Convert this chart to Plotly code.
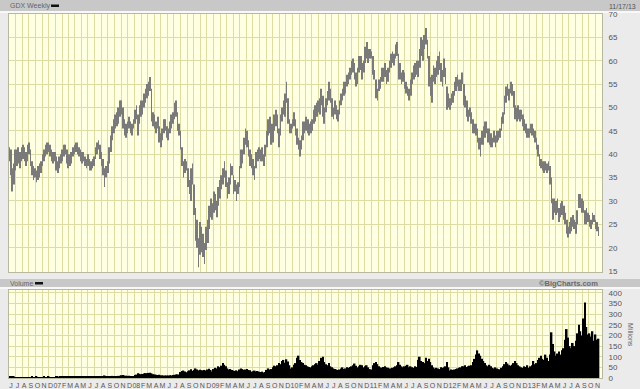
import pandas as pd
import plotly.graph_objects as go

# ---------------- data (weekly) ----------------
first_week = "2006-06-02"
chart_date = "11/17/13"

week_low = [
    # 2006 Jun-Dec
    38.5, 35.5, 32.0, 33.5, 36.5,
    37.5, 38.0, 37.0, 38.5,
    39.0, 38.5, 37.5, 38.5,
    40.0, 37.5, 35.5, 34.5, 35.0,
    34.0, 34.5, 35.0, 36.0,
    37.5, 38.5, 39.5, 40.0,
    40.5, 39.5, 38.5, 38.0, 38.5,
    # 2007
    36.5, 36.0, 37.0, 38.0,
    38.5, 39.5, 40.0, 38.0,
    37.0, 37.5, 38.0, 39.5, 40.0,
    40.5, 40.0, 39.5, 38.5,
    38.0, 38.5, 37.5, 37.0,
    37.5, 36.5, 36.5, 37.0, 37.5,
    39.0, 40.0, 41.0, 39.0,
    37.5, 35.5, 33.0, 35.0, 36.0,
    38.0, 40.5, 43.0, 44.5,
    45.5, 46.0, 46.5, 48.0,
    48.5, 45.5, 44.0, 43.5, 44.5,
    45.5, 44.5, 44.0, 45.5,
    # 2008
    46.5, 47.5, 44.0, 46.5,
    48.0, 48.5, 50.0, 51.0, 52.0,
    52.5, 53.5, 47.0, 46.0,
    45.5, 44.5, 45.5, 42.5,
    41.5, 43.0, 44.5, 45.0, 43.5,
    43.0, 44.5, 45.5, 46.5,
    47.5, 48.0, 45.0, 44.0,
    41.0, 37.5, 35.0, 36.0, 36.5,
    33.0, 31.5, 30.0, 33.5,
    27.0, 21.5, 20.0, 15.8, 18.5,
    19.0, 18.0, 16.5, 19.5,
    21.0, 24.0, 26.5, 26.0,
    # 2009
    27.5, 28.0, 26.5, 29.0, 30.5,
    32.5, 33.5, 35.0, 33.0,
    30.5, 31.5, 33.5, 35.5,
    31.5, 32.0, 30.0, 31.5,
    33.0, 37.0, 38.0, 40.0, 42.0,
    41.5, 39.5, 37.5, 37.0,
    35.5, 34.5, 37.0, 38.5, 39.0,
    38.5, 38.5, 37.5, 39.5,
    41.5, 44.0, 44.5, 42.0,
    42.5, 45.0, 46.0, 44.5, 41.5,
    44.0, 47.0, 48.5, 48.0,
    51.0, 46.5, 44.5, 44.5,
    # 2010
    45.5, 46.0, 44.0, 42.0, 41.0,
    39.5, 41.0, 43.0, 44.5,
    45.0, 44.5, 44.0, 44.5,
    45.0, 46.5, 47.0, 48.0, 49.0,
    48.5, 50.5, 48.0, 46.5,
    49.0, 50.5, 51.5, 51.0,
    48.0, 47.5, 48.5, 47.5, 47.0,
    48.5, 50.5, 51.5, 52.5,
    53.0, 54.5, 55.0, 56.0,
    57.0, 57.5, 56.0, 54.5, 55.0,
    57.5, 58.0, 56.0, 57.5,
    59.5, 60.5, 59.5, 60.5, 60.5,
    # 2011
    57.0, 56.0, 52.0, 51.5,
    53.5, 54.0, 55.5, 55.5,
    56.5, 55.0, 55.5, 57.5,
    58.5, 59.5, 59.0, 60.5, 61.0,
    56.0, 56.0, 55.0, 55.5,
    54.0, 53.0, 52.5, 51.5,
    52.5, 55.0, 56.0, 56.5, 57.0,
    56.5, 58.5, 61.0, 60.0,
    62.5, 63.5, 60.5, 54.5, 52.5,
    51.0, 55.5, 55.0, 56.5,
    57.0, 58.0, 55.5, 54.5,
    56.5, 55.0, 49.5, 50.0, 49.5,
    # 2012
    50.5, 51.0, 52.5, 53.5,
    54.5, 53.5, 53.5, 55.0,
    50.5, 50.0, 48.0, 47.0, 48.0,
    46.5, 44.5, 44.5, 44.0,
    42.5, 41.0, 39.5, 42.0,
    42.0, 43.5, 44.5, 42.5, 42.0,
    41.5, 41.5, 42.5, 41.5,
    42.5, 43.0, 43.5, 45.0, 46.5,
    48.5, 51.0, 52.5, 51.5,
    53.0, 52.5, 50.0, 47.5,
    47.0, 47.5, 47.0, 47.5, 46.0,
    45.0, 44.5, 43.5, 43.5,
    # 2013
    44.5, 44.0, 43.5, 42.5,
    41.0, 39.5, 37.5, 37.0,
    36.5, 36.0, 36.5, 36.0, 36.5,
    33.5, 29.5, 26.0, 27.5,
    27.0, 27.5, 25.5, 26.5, 27.0,
    26.0, 25.0, 23.0, 22.2,
    23.0, 23.5, 24.5, 24.0,
    23.0, 25.0, 28.5, 28.5, 27.5,
    27.5, 25.0, 25.0, 25.5,
    24.5, 24.0, 25.0, 25.5,
    24.0, 23.5, 22.5,
]

week_high = [
    # 2006 Jun-Dec
    41.5, 41.0, 37.0, 38.0, 41.0,
    41.0, 41.5, 40.5, 41.5,
    42.0, 41.5, 40.5, 42.0,
    42.5, 41.0, 38.5, 37.5, 37.0,
    36.5, 37.5, 38.0, 38.5,
    40.0, 41.0, 42.0, 42.5,
    42.5, 42.0, 41.0, 40.5, 40.5,
    # 2007
    39.5, 38.5, 39.5, 40.0,
    41.0, 42.0, 42.0, 41.0,
    40.0, 40.0, 40.5, 41.5, 42.0,
    42.5, 42.5, 41.5, 41.0,
    40.5, 40.5, 39.5, 39.0,
    40.0, 39.0, 38.5, 39.0, 39.5,
    41.5, 42.5, 43.0, 42.0,
    40.5, 39.0, 37.0, 37.5, 38.5,
    41.5, 44.0, 46.0, 47.5,
    48.5, 49.0, 50.0, 51.5,
    51.5, 50.0, 47.5, 46.5, 47.0,
    48.0, 47.0, 46.5, 47.5,
    # 2008
    49.5, 50.5, 48.5, 50.5,
    51.5, 51.5, 53.0, 54.0, 55.0,
    55.5, 56.5, 54.0, 49.0,
    48.5, 47.0, 48.0, 46.0,
    44.5, 45.5, 47.5, 47.5, 46.0,
    45.5, 47.0, 48.5, 49.0,
    51.0, 51.5, 49.0, 46.5,
    45.0, 41.5, 38.5, 39.0, 38.5,
    37.0, 34.5, 37.0, 38.0,
    33.5, 28.5, 26.0, 22.0, 25.5,
    24.5, 23.0, 21.0, 24.5,
    26.0, 29.0, 30.5, 29.5,
    # 2009
    32.0, 31.5, 30.0, 33.0, 34.5,
    35.5, 37.0, 38.5, 36.5,
    34.0, 35.0, 38.0, 37.5,
    35.5, 34.5, 33.5, 34.0,
    37.5, 41.0, 41.0, 43.5, 45.5,
    45.0, 43.0, 41.0, 40.0,
    39.0, 37.5, 40.5, 41.0, 41.5,
    41.0, 41.5, 40.0, 42.0,
    45.0, 47.5, 48.0, 46.5,
    46.5, 48.5, 49.5, 48.5, 45.5,
    48.5, 50.0, 51.5, 53.0,
    55.5, 52.0, 47.5, 46.5,
    # 2010
    47.5, 49.0, 47.5, 45.5, 43.5,
    43.0, 44.0, 47.0, 47.0,
    48.0, 47.5, 46.5, 47.0,
    47.5, 49.5, 50.5, 51.0, 51.5,
    52.0, 54.0, 52.5, 50.0,
    52.0, 53.5, 55.5, 54.0,
    52.0, 50.0, 51.5, 50.5, 49.5,
    51.5, 53.0, 54.0, 55.5,
    55.5, 57.0, 57.5, 58.5,
    60.0, 60.5, 59.5, 57.5, 58.5,
    61.0, 61.0, 59.5, 60.0,
    63.0, 64.0, 62.5, 62.5, 62.0,
    # 2011
    61.0, 58.0, 56.0, 54.0,
    56.0, 56.5, 58.5, 58.5,
    59.5, 58.0, 58.5, 60.0,
    61.5, 62.0, 61.5, 63.5, 64.0,
    61.5, 59.5, 57.5, 58.0,
    57.5, 55.5, 54.5, 54.0,
    56.0, 57.5, 59.0, 59.5, 60.0,
    60.0, 62.5, 65.0, 64.5,
    65.5, 67.0, 64.5, 61.0, 56.5,
    57.0, 59.0, 58.5, 60.0,
    61.0, 62.0, 59.5, 58.0,
    60.5, 58.5, 54.5, 53.0, 52.0,
    # 2012
    53.0, 53.5, 55.5, 56.5,
    57.0, 56.0, 56.0, 57.5,
    55.0, 52.5, 51.5, 49.5, 50.0,
    49.0, 47.5, 46.5, 46.5,
    45.5, 43.5, 43.5, 45.0,
    46.0, 47.0, 47.0, 45.5, 45.5,
    44.5, 43.5, 45.0, 44.0,
    45.0, 45.0, 45.5, 48.0, 49.0,
    52.5, 54.5, 55.0, 54.0,
    55.5, 55.0, 53.5, 50.5,
    50.0, 50.5, 49.5, 49.5, 48.5,
    47.5, 46.5, 45.5, 45.5,
    # 2013
    46.5, 46.5, 45.5, 45.0,
    43.5, 42.0, 40.0, 39.0,
    38.5, 38.5, 38.5, 38.0, 38.5,
    37.5, 35.0, 30.5, 30.5,
    30.0, 30.5, 28.5, 29.5, 30.0,
    29.0, 27.5, 26.0, 24.5,
    25.5, 26.5, 27.0, 26.0,
    25.5, 28.0, 31.5, 31.5, 30.5,
    30.0, 28.0, 28.5, 27.5,
    27.0, 26.0, 27.5, 27.0,
    26.0, 25.5, 24.5,
]

week_volume = [  # millions
    # 2006 Jun-Dec
    6, 5, 7, 5, 4,
    4, 4, 3, 4,
    3, 4, 3, 3,
    4, 4, 5, 4, 4,
    5, 4, 4, 4,
    4, 5, 4, 4,
    5, 4, 4, 3, 3,
    # 2007
    5, 5, 4, 5,
    5, 6, 5, 7,
    7, 6, 5, 5, 5,
    5, 5, 5, 6,
    5, 5, 6, 5,
    6, 6, 5, 5, 5,
    5, 6, 6, 7,
    8, 9, 12, 8, 7,
    8, 9, 10, 9,
    9, 8, 10, 11,
    13, 14, 12, 10, 10,
    10, 9, 9, 8,
    # 2008
    14, 16, 22, 20,
    18, 19, 21, 23, 22,
    24, 25, 22, 18,
    17, 15, 14, 15,
    13, 12, 12, 11, 12,
    12, 13, 12, 14,
    15, 16, 17, 17,
    28, 33, 35, 30, 27,
    32, 36, 41, 34,
    38, 45, 40, 36, 39,
    37, 35, 38, 34,
    40, 44, 38, 30,
    # 2009
    42, 48, 45, 55, 50,
    58, 70, 62, 55,
    45, 40, 42, 38,
    35, 33, 36, 32,
    40, 45, 42, 38, 40,
    42, 38, 36, 30,
    32, 35, 30, 33, 29,
    28, 30, 26, 28,
    38, 45, 40, 42,
    50, 58, 55, 60, 70,
    65, 80, 85, 72,
    88, 78, 60, 45,
    # 2010
    50, 62, 70, 95, 105,
    85, 75, 70, 62,
    60, 55, 52, 50,
    55, 60, 65, 70, 62,
    80, 95, 100, 75,
    65, 60, 70, 55,
    50, 45, 42, 40, 38,
    40, 45, 50, 42,
    45, 50, 48, 52,
    55, 60, 68, 58, 50,
    55, 62, 60, 50,
    55, 60, 50, 42, 40,
    # 2011
    60, 70, 75, 65,
    55, 50, 48, 52,
    55, 50, 48, 45,
    45, 48, 50, 55, 60,
    75, 62, 55, 50,
    55, 58, 62, 50,
    55, 50, 48, 55, 52,
    85, 100, 80, 75,
    70, 95, 80, 90, 75,
    60, 50, 45, 48,
    45, 42, 50, 48,
    50, 55, 75, 50, 35,
    # 2012
    40, 38, 40, 42,
    45, 48, 50, 55,
    55, 60, 52, 55, 58,
    60, 75, 90, 110,
    130, 115, 105, 90,
    80, 70, 60, 55, 62,
    55, 48, 45, 50,
    45, 42, 40, 48, 55,
    65, 75, 68, 60,
    58, 62, 70, 80,
    70, 60, 55, 50, 48,
    55, 52, 60, 48,
    # 2013
    55, 60, 80, 65,
    70, 85, 95, 105,
    90, 85, 110, 95, 80,
    110, 215, 160, 125,
    105, 115, 125, 110, 130,
    140, 180, 230, 190,
    150, 140, 165, 150,
    175, 210, 250, 220, 200,
    280, 355, 240, 205,
    210, 195, 220, 175,
    205, 180, 185,
]

price_ticks = [15, 20, 25, 30, 35, 40, 45, 50, 55, 60, 65, 70]
volume_ticks = [0, 50, 100, 150, 200, 250, 300, 350, 400]
month_letters = ["07", "F", "M", "A", "M", "J", "J", "A", "S", "O", "N", "D"]

# ---------------- build ----------------
n = min(len(week_low), len(week_high), len(week_volume))
dates = pd.date_range(first_week, periods=n, freq="W-FRI")
WEEK_MS = 7 * 24 * 3600 * 1000

months = pd.date_range("2006-06-01", "2013-11-01", freq="MS")
month_text = []
for d in months:
    if d.month == 1:
        month_text.append(f"{d.year % 100:02d}")
    else:
        month_text.append(month_letters[d.month - 1])

BG = "#ebebeb"
PLOT_BG = "#ffffe2"
GRID = "#dcdca4"
HEADER = "#c8c8c8"
TXT = "#555555"
FONT = "Liberation Sans"

W, H = 640, 389
ML, MR, MT, MB = 9, 38, 14, 11
PW, PH = W - ML - MR, H - MT - MB


def px(x):
    return (x - ML) / PW


def py(y):
    return (H - MB - y) / PH


fig = go.Figure()
fig.add_trace(go.Bar(
    x=dates, base=week_low[:n],
    y=[h - l for h, l in zip(week_high[:n], week_low[:n])],
    width=0.45 * WEEK_MS,
    marker=dict(color="#7a7a7a", line=dict(width=0)),
    xaxis="x", yaxis="y", hoverinfo="skip",
))
fig.add_trace(go.Bar(
    x=dates, y=week_volume[:n],
    width=1.05 * WEEK_MS,
    marker=dict(color="#000000", line=dict(width=0)),
    xaxis="x2", yaxis="y2", hoverinfo="skip",
))

xrange_ = ["2006-06-01", "2013-12-01"]
top_dom = [py(272), 1]
vol_dom = [0, py(290)]

axis_common = dict(showgrid=True, gridcolor=GRID, gridwidth=1, ticks="",
                   zeroline=False, showline=True, linecolor="#b8b8a0",
                   mirror=True, automargin=False)

fig.update_layout(
    width=W, height=H,
    margin=dict(l=ML, r=MR, t=MT, b=MB, autoexpand=False),
    paper_bgcolor=BG, plot_bgcolor=PLOT_BG,
    showlegend=False, barmode="overlay",
    font=dict(family=FONT, size=8, color=TXT),
    xaxis=dict(type="date", range=xrange_, domain=[0, 1], anchor="y",
               tickmode="array", tickvals=months, showticklabels=False,
               **axis_common),
    yaxis=dict(domain=top_dom, range=[14.8, 70], side="right",
               tickmode="array", tickvals=price_ticks,
               tickfont=dict(size=8, color=TXT, family=FONT), ticklabelstandoff=4,
               **axis_common),
    xaxis2=dict(type="date", range=xrange_, domain=[0, 1], anchor="y2",
                tickmode="array", tickvals=months, ticktext=month_text,
                ticklabelshift=2, ticklabelstandoff=1,
                tickfont=dict(size=7, color=TXT, family=FONT), tickangle=0,
                **axis_common),
    yaxis2=dict(domain=vol_dom, range=[0, 414], side="right",
                tickmode="array", tickvals=volume_ticks,
                tickfont=dict(size=8, color=TXT, family=FONT), ticklabelstandoff=4,
                **axis_common),
)

shapes = [
    # top header bar
    dict(type="rect", xref="paper", yref="paper", x0=px(0), x1=px(W), y0=py(11), y1=py(0),
         fillcolor=HEADER, line=dict(width=0), layer="below"),
    dict(type="rect", xref="paper", yref="paper", x0=px(0), x1=px(W), y0=py(13), y1=py(11),
         fillcolor="#f8f8f8", line=dict(width=0), layer="below"),
    # volume header bar
    dict(type="rect", xref="paper", yref="paper", x0=px(0), x1=px(W), y0=py(287), y1=py(279),
         fillcolor=HEADER, line=dict(width=0), layer="below"),
    dict(type="rect", xref="paper", yref="paper", x0=px(0), x1=px(W), y0=py(289), y1=py(287),
         fillcolor="#f8f8f8", line=dict(width=0), layer="below"),
    # legend dashes
    dict(type="rect", xref="paper", yref="paper", x0=px(51), x1=px(59), y0=py(7), y1=py(4.5),
         fillcolor="#111111", line=dict(width=0)),
    dict(type="rect", xref="paper", yref="paper", x0=px(35), x1=px(43), y0=py(284.5), y1=py(282),
         fillcolor="#111111", line=dict(width=0)),
]
fig.update_layout(shapes=shapes)

annots = [
    dict(text="GDX Weekly", x=px(8), y=py(6), xanchor="left", yanchor="middle",
         font=dict(size=7, color="#666666", family=FONT)),
    dict(text=chart_date, x=px(638), y=py(6), xanchor="right", yanchor="middle",
         font=dict(size=7, color="#555555", family=FONT)),
    dict(text="Volume", x=px(8), y=py(283), xanchor="left", yanchor="middle",
         font=dict(size=7, color="#666666", family=FONT)),
    dict(text="<b>©BigCharts.com</b>", x=px(600), y=py(283), xanchor="right", yanchor="middle",
         font=dict(size=7.5, color="#6a6a6a", family=FONT)),
    dict(text="Millions", x=px(631), y=py(335), xanchor="center", yanchor="middle",
         textangle=90, font=dict(size=7, color="#666666", family=FONT)),
]
for a in annots:
    a.update(xref="paper", yref="paper", showarrow=False)
fig.update_layout(annotations=annots)

fig.write_html("out.html")
